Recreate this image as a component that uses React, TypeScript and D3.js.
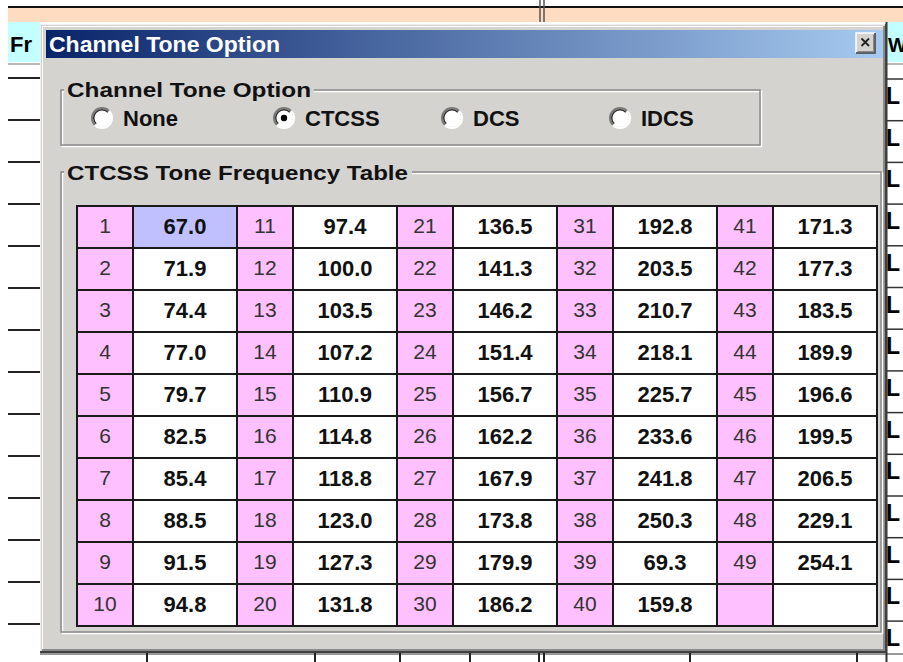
import React from 'react'
import * as d3 from 'd3'

// CTCSS tone table, in the order the dialog numbers them (1..49)
const toneFrequencies = [
  '67.0', '71.9', '74.4', '77.0', '79.7', '82.5', '85.4', '88.5', '91.5', '94.8',
  '97.4', '100.0', '103.5', '107.2', '110.9', '114.8', '118.8', '123.0', '127.3', '131.8',
  '136.5', '141.3', '146.2', '151.4', '156.7', '162.2', '167.9', '173.8', '179.9', '186.2',
  '192.8', '203.5', '210.7', '218.1', '225.7', '233.6', '241.8', '250.3', '69.3', '159.8',
  '171.3', '177.3', '183.5', '189.9', '196.6', '199.5', '206.5', '229.1', '254.1',
]
const toneOptions = ['None', 'CTCSS', 'DCS', 'IDCS']
const selectedOption = 'CTCSS'
const selectedTone = 1
const dialogTitle = 'Channel Tone Option'
const groupTitle = 'Channel Tone Option'
const tableTitle = 'CTCSS Tone Frequency Table'

const ROWS = 10
const COLS = 5
const W = 903
const H = 662
const FACE = '#d4d3d0'
const FONT = '"Liberation Sans", Arial, sans-serif'

// chrome layout (not data)
const radioX = [102, 284, 452, 620]

function Etched({ x, y, w, h }: { x: number; y: number; w: number; h: number }) {
  return (
    <g fill="none">
      <rect x={x + 1.5} y={y + 1.5} width={w} height={h} stroke="#fff" strokeWidth={1.5} />
      <rect x={x} y={y} width={w} height={h} stroke="#8a8a8a" strokeWidth={1.5} />
    </g>
  )
}

function Radio({ cx, cy, checked }: { cx: number; cy: number; checked: boolean }) {
  const outer = d3.arc()
  const tl = outer({ innerRadius: 9, outerRadius: 11, startAngle: -Math.PI * 0.75, endAngle: Math.PI * 0.25 } as any)
  const tlIn = outer({ innerRadius: 7.5, outerRadius: 9, startAngle: -Math.PI * 0.75, endAngle: Math.PI * 0.25 } as any)
  const br = outer({ innerRadius: 9, outerRadius: 11, startAngle: Math.PI * 0.25, endAngle: Math.PI * 1.25 } as any)
  return (
    <g transform={`translate(${cx},${cy})`}>
      <circle r={9} fill="#fff" />
      <path d={tl || ''} fill="#7a7a7a" />
      <path d={tlIn || ''} fill="#303030" />
      <path d={br || ''} fill="#fff" />
      {checked && <circle r={3.2} fill="#000" />}
    </g>
  )
}

export default function App() {
  const colScale = d3.scaleBand<number>().domain(d3.range(COLS)).range([77, 877])
  const rowScale = d3.scaleBand<number>().domain(d3.range(ROWS)).range([206, 626])
  const idxW = colScale.bandwidth() * 0.35

  const cells = d3.range(ROWS * COLS).map(i => ({
    n: i + 1,
    col: Math.floor(i / ROWS),
    row: i % ROWS,
    value: toneFrequencies[i],
  }))

  const leftLines = d3.range(14).map(k => 78 + 42 * k)
  const rightRows = d3.range(14).map(k => 79 + 41.7 * k)
  const bottomTicks = [147, 315, 400, 470, 539, 544, 690, 857]

  return (
    <svg width={W} height={H} style={{ position: 'absolute', left: 0, top: 0, display: 'block' }}
      fontFamily={FONT}>
      <defs>
        <linearGradient id="title" x1="0" x2="1" y1="0" y2="0">
          <stop offset="0" stopColor="#0a246a" />
          <stop offset="1" stopColor="#a6caf0" />
        </linearGradient>
      </defs>
      <rect width={W} height={H} fill="#fff" />

      {/* window behind the dialog */}
      <rect x={8} y={6} width={W - 8} height={2} fill="#111" />
      <rect x={8} y={8} width={W - 8} height={14} fill="#fddcc2" />
      <line x1={540} x2={540} y1={0} y2={22} stroke="#555" strokeWidth={1.5} />
      <line x1={544} x2={544} y1={0} y2={22} stroke="#555" strokeWidth={1.5} />
      <rect x={8} y={22} width={32} height={40} fill="#c4ffff" />
      <line x1={8} x2={40} y1={64} y2={64} stroke="#a0a0a0" strokeWidth={1.5} />
      <text x={10} y={52} fontSize={22} fontWeight="bold">Fr</text>
      {leftLines.map(y => (
        <line key={y} x1={8} x2={40} y1={y} y2={y} stroke="#222" strokeWidth={2} />
      ))}
      <rect x={887} y={22} width={16} height={40} fill="#c4ffff" />
      <text x={888} y={52} fontSize={20} fontWeight="bold">W</text>
      <line x1={887} x2={W} y1={64} y2={64} stroke="#a0a0a0" strokeWidth={1.5} />
      <line x1={886.5} x2={886.5} y1={22} y2={H} stroke="#333" strokeWidth={2} />
      {rightRows.map(y => (
        <g key={y}>
          <line x1={887} x2={W} y1={y} y2={y} stroke="#333" strokeWidth={1.5} />
          <text x={886} y={y + 25} fontSize={23} fontWeight="bold">L</text>
        </g>
      ))}
      <line x1={40} x2={W} y1={654} y2={654} stroke="#333" strokeWidth={1} />
      {bottomTicks.map(x => (
        <line key={x} x1={x} x2={x} y1={652} y2={H} stroke="#222" strokeWidth={2} />
      ))}

      {/* dialog frame */}
      <rect x={40} y={24} width={846} height={628} fill={FACE} />
      <line x1={40.5} x2={40.5} y1={24} y2={652} stroke="#eee" />
      <line x1={40} x2={886} y1={24.5} y2={24.5} stroke="#eee" />
      <line x1={42.5} x2={42.5} y1={26} y2={650} stroke="#fff" />
      <line x1={42} x2={884} y1={26.5} y2={26.5} stroke="#fff" />
      <line x1={884} x2={884} y1={26} y2={650} stroke="#8a8a8a" strokeWidth={2} />
      <line x1={42} x2={885} y1={650} y2={650} stroke="#8a8a8a" strokeWidth={2} />
      <line x1={886} x2={886} y1={24} y2={653} stroke="#404040" strokeWidth={2} />
      <line x1={40} x2={887} y1={652} y2={652} stroke="#404040" strokeWidth={2} />

      {/* title bar */}
      <rect x={46} y={30} width={837} height={28} fill="url(#title)" />
      <text x={49} y={52} fill="#fff" fontSize={22} fontWeight="bold" textLength={231}
        lengthAdjust="spacingAndGlyphs">{dialogTitle}</text>
      <g>
        <rect x={856} y={33} width={19} height={20} fill={FACE} />
        <path d="M856,53 V33 H875" fill="none" stroke="#fff" strokeWidth={1.5} />
        <path d="M856,53 H875 V33" fill="none" stroke="#404040" strokeWidth={1.5} />
        <path d="M857.5,51.5 H873.5 V34.5" fill="none" stroke="#8a8a8a" strokeWidth={1} />
        <path d="M861.5,38.5 L869,46 M869,38.5 L861.5,46" stroke="#222" strokeWidth={1.8} />
      </g>

      {/* option group */}
      <Etched x={61} y={90} w={699} h={55} />
      <rect x={64} y={80} width={250} height={18} fill={FACE} />
      <text x={67} y={97} fontSize={20} fontWeight="bold" fill="#111" textLength={244}
        lengthAdjust="spacingAndGlyphs">{groupTitle}</text>
      {toneOptions.map((opt, i) => (
        <g key={opt}>
          <Radio cx={radioX[i]} cy={118} checked={opt === selectedOption} />
          <text x={radioX[i] + 21} y={126} fontSize={22} fontWeight="bold" fill="#111">{opt}</text>
        </g>
      ))}

      {/* table group */}
      <Etched x={61} y={172} w={820} h={460} />
      <rect x={64} y={162} width={348} height={18} fill={FACE} />
      <text x={67} y={180} fontSize={20} fontWeight="bold" fill="#111" textLength={341}
        lengthAdjust="spacingAndGlyphs">{tableTitle}</text>

      <g>
        {cells.map(c => {
          const x0 = colScale(c.col) as number
          const y0 = rowScale(c.row) as number
          const h = rowScale.bandwidth()
          const vw = colScale.bandwidth() - idxW
          return (
            <g key={c.n}>
              <rect x={x0} y={y0} width={idxW} height={h} fill="#ffc0ff" stroke="#1a1a1a" strokeWidth={2} />
              <rect x={x0 + idxW} y={y0} width={vw} height={h}
                fill={c.n === selectedTone ? '#c0c0ff' : '#fff'} stroke="#1a1a1a" strokeWidth={2} />
              {c.value !== undefined && (
                <>
                  <text x={x0 + idxW / 2} y={y0 + 27} textAnchor="middle" fontSize={21} fill="#333">{c.n}</text>
                  <text x={x0 + idxW + vw / 2} y={y0 + 28} textAnchor="middle" fontSize={22}
                    fontWeight="bold" fill="#111">{c.value}</text>
                </>
              )}
            </g>
          )
        })}
      </g>
    </svg>
  )
}
